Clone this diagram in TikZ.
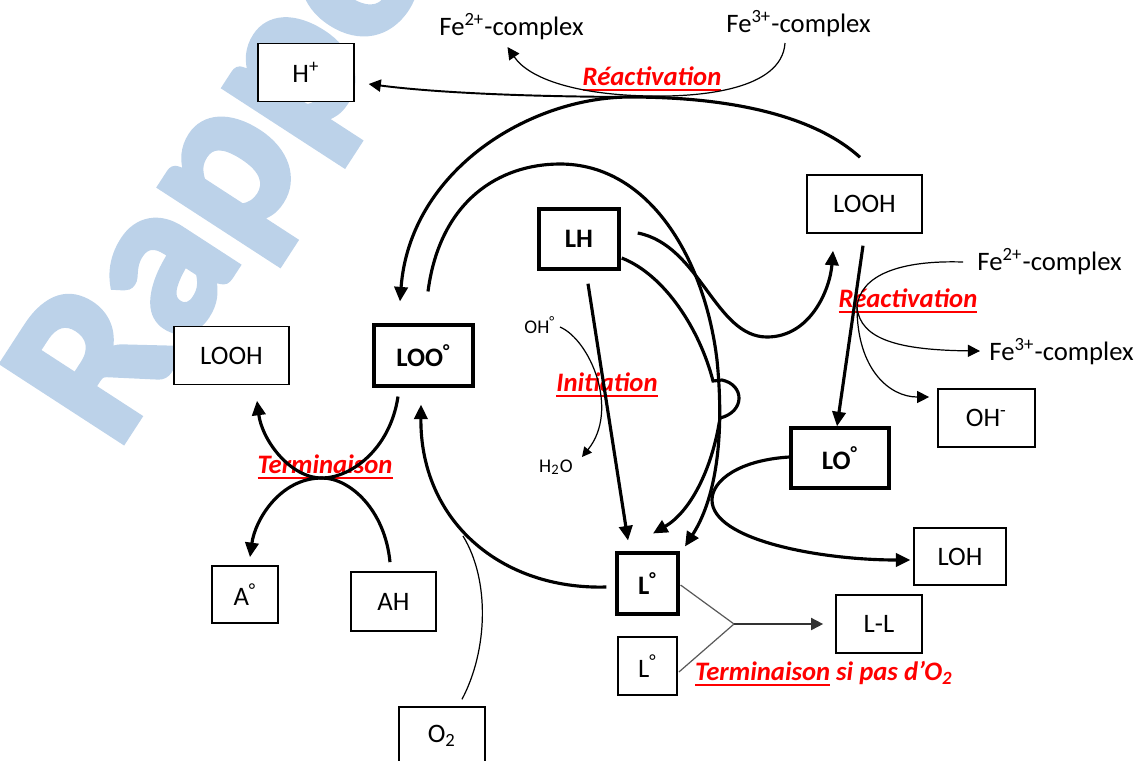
\documentclass[tikz,border=0pt]{standalone}
\usepackage{fontspec}
\setmainfont{Carlito}
\newfontfamily\wmfont[BoldFeatures={FakeBold=3}]{Carlito}
\usetikzlibrary{arrows.meta,calc}

\definecolor{wmblue}{RGB}{188,210,233}

% underline with a heavier rule
\newcommand{\ulbold}[1]{\setbox0\hbox{#1}\rlap{\raisebox{-2.2pt}{\rule{\wd0}{0.75pt}}}\box0\relax}

\tikzset{
  box/.style={draw, fill=white, line width=0.6pt, inner sep=0pt, font=\fontsize{11}{13}\selectfont},
  radbox/.style={box, line width=1.4pt, font=\fontsize{11}{13}\selectfont\bfseries},
  lbl/.style={inner sep=0pt, font=\fontsize{11}{13}\selectfont},
  small/.style={inner sep=0pt, font=\fontsize{8}{9}\selectfont},
  stage/.style={inner sep=0pt, text=red, font=\fontsize{11}{13}\selectfont\bfseries\itshape},
  rx/.style={line width=1.3pt, -{Triangle[length=6pt,width=5.5pt]}},
  side/.style={line width=0.5pt, -{Triangle[length=5pt,width=5pt]}},
  bond/.style={line width=0.5pt, black!65},
}

\begin{document}
\begin{tikzpicture}[x=0.0145cm, y=-0.0145cm]
\useasboundingbox (0,0) rectangle (1139,760);

% watermark in the back
\node[text=wmblue, font=\wmfont\fontsize{91}{91}\selectfont\bfseries, rotate=57, anchor=base west, inner sep=0pt] (wm) at (116,452) {Rapport};

% species
\node[box, minimum width=1.39cm, minimum height=0.84cm] (Hp) at (306,72.5) {H\textsuperscript{+}};
\node[box, minimum width=1.67cm, minimum height=0.84cm] (LOOHl) at (231.5,355.5) {LOOH};
\node[radbox, minimum width=1.44cm, minimum height=0.88cm] (LOO) at (423.5,355.5) {LOO\textsuperscript{°}};
\node[radbox, minimum width=1.16cm, minimum height=0.87cm] (LH) at (579,239) {LH};
\node[box, minimum width=1.67cm, minimum height=0.84cm] (LOOHr) at (864.5,204) {LOOH};
\node[box, minimum width=1.41cm, minimum height=0.84cm] (OHm) at (986.5,418) {OH\textsuperscript{-}};
\node[radbox, minimum width=1.42cm, minimum height=0.87cm] (LO) at (840,458) {LO\textsuperscript{°}};
\node[box, minimum width=1.33cm, minimum height=0.83cm] (LOH) at (960,556.5) {LOH};
\node[box, minimum width=1.25cm, minimum height=0.84cm] (LL) at (879,624) {L-L};
\node[radbox, minimum width=0.88cm, minimum height=0.88cm] (Lr) at (647.5,583.5) {L\textsuperscript{°}};
\node[box, minimum width=0.86cm, minimum height=0.84cm] (Lr2) at (647.5,666) {L\textsuperscript{°}};
\node[box, minimum width=0.96cm, minimum height=0.83cm] (Ar) at (245,594.5) {A\textsuperscript{°}};
\node[box, minimum width=1.23cm, minimum height=0.86cm] (AH) at (393.5,601.5) {AH};
\node[box, minimum width=1.25cm, minimum height=0.84cm] (O2) at (442,736) {O\textsubscript{2}};

% iron complexes and side species
\node[lbl, anchor=base] (Fe2t) at (511.5,35) {Fe\textsuperscript{2+}-complex};
\node[lbl, anchor=base] (Fe3t) at (798.5,32) {Fe\textsuperscript{3+}-complex};
\node[lbl, anchor=base west] (Fe2r) at (977,270) {Fe\textsuperscript{2+}-complex};
\node[lbl, anchor=base west] (Fe3r) at (989,360) {Fe\textsuperscript{3+}-complex};
\node[small, anchor=base] (OHr) at (540,333) {OH\textsuperscript{°}};
\node[small, anchor=base] (H2O) at (556,472) {H\textsubscript{2}O};

% stage labels
\node[stage] (reactT) at (652,79) {\ulbold{Réactivation}};
\node[stage] (reactR) at (908,301) {\ulbold{Réactivation}};
\node[stage] (init) at (607,385) {\ulbold{Initiation}};
\node[stage] (termA) at (325,467) {\ulbold{Terminaison}};
\node[stage] (termL) at (824,674) {\ulbold{Terminaison} si pas d’O\textsubscript{2}};

% junction points
\coordinate (topjoin) at (645,97);
\coordinate (rc) at (857,307);
\coordinate (xing) at (322,478);
\coordinate (fork) at (734,624);

% propagation
\draw[rx] ($(LH.south)+(9,13)$) -- ($(Lr.north)+(-19.5,-11)$);
\draw[rx] ($(LH.east)+(1,19)$) .. controls (665,275) and (700,330) .. (713,381)
  -- (722,380) .. controls (745,385) and (745,412) .. (720,418)
  .. controls (712,470) and (690,512) .. ($(Lr.north)+(5.5,-18)$);
\draw[rx] ($(LOO.north)+(4.5,-32)$) .. controls (440,200) and (500,164) .. (560,164)
  .. controls (650,164) and (705,260) .. (717,360)
  .. controls (725,440) and (715,500) .. ($(Lr.north)+(37.5,-5)$);
\draw[rx] ($(Lr.west)+(-9,3.5)$) .. controls (500,590) and (420,520) .. ($(LOO.south)+(-2.5,17)$);
\draw[line width=0.5pt] ($(O2.north)+(20,-7)$) .. controls (488,650) and (490,580) .. (463,536);

% reactivation via LOOH
\draw[rx] ($(LH.east)+(17,-6)$) .. controls (700,245) and (715,337) .. (767,337)
  .. controls (810,337) and (830,290) .. ($(LOOHr.south)+(-31.5,17)$);
\draw[rx] ($(LOOHr.north)+(-4.5,-17)$) .. controls (810,112) and (720,97) .. (630,97)
  .. controls (530,97) and (410,170) .. ($(LOO.north)+(-23.5,-22)$);
\draw[line width=0.8pt, -{Triangle[length=5pt,width=5pt]}] (topjoin) .. controls (520,97) and (430,92) .. ($(Hp.east)+(14,11.5)$);
\draw[side] ($(Fe3t.base)+(-13.5,11)$) .. controls (782,90) and (700,97) .. (650,96)
  .. controls (580,95) and (530,80) .. ($(Fe2t.base)+(-4,12)$);

% LOOH -> LO radical
\draw[rx] ($(LOOHr.south)+(-1.5,12)$) -- ($(LO.north)+(-3,0)$);
\draw[line width=0.5pt] ($(Fe2r.base west)+(-14,-8)$) .. controls (900,260) and (860,275) .. (rc);
\draw[side] (rc) .. controls (860,340) and (900,350) .. ($(Fe3r.base west)+(-9,-9)$);
\draw[side] (rc) .. controls (857,370) and (890,397) .. ($(OHm.west)+(-8,-21)$);
\draw[rx] ($(LO.west)+(0,-1)$) .. controls (740,460) and (712,480) .. (712,500)
  .. controls (712,540) and (820,560) .. ($(LOH.west)+(-3,3.5)$);

% initiation
\draw[line width=0.5pt, -{Triangle[length=4pt,width=4pt]}] ($(OHr.base)+(20,-6)$) .. controls (590,340) and (620,410) .. ($(H2O.base)+(26,-15)$);

% termination with antioxidant
\draw[rx] ($(LOO.south)+(-25.5,9)$) .. controls (390,450) and (350,478) .. (xing)
  .. controls (280,478) and (255,520) .. ($(Ar.north)+(5,-8)$);
\draw[rx] ($(AH.north)+(-3.5,-9)$) .. controls (385,510) and (350,478) .. (xing)
  .. controls (290,478) and (262,440) .. ($(LOOHl.south)+(25.5,15.5)$);

% termination without oxygen
\draw[bond] ($(Lr.east)+(1,1.5)$) -- (fork) -- ($(Lr2.east)+(1,6)$);
\draw[line width=0.7pt, black!80, -{Triangle[length=5pt,width=5pt]}] (fork) -- ($(LL.west)+(-12,0)$);
\end{tikzpicture}
\end{document}
